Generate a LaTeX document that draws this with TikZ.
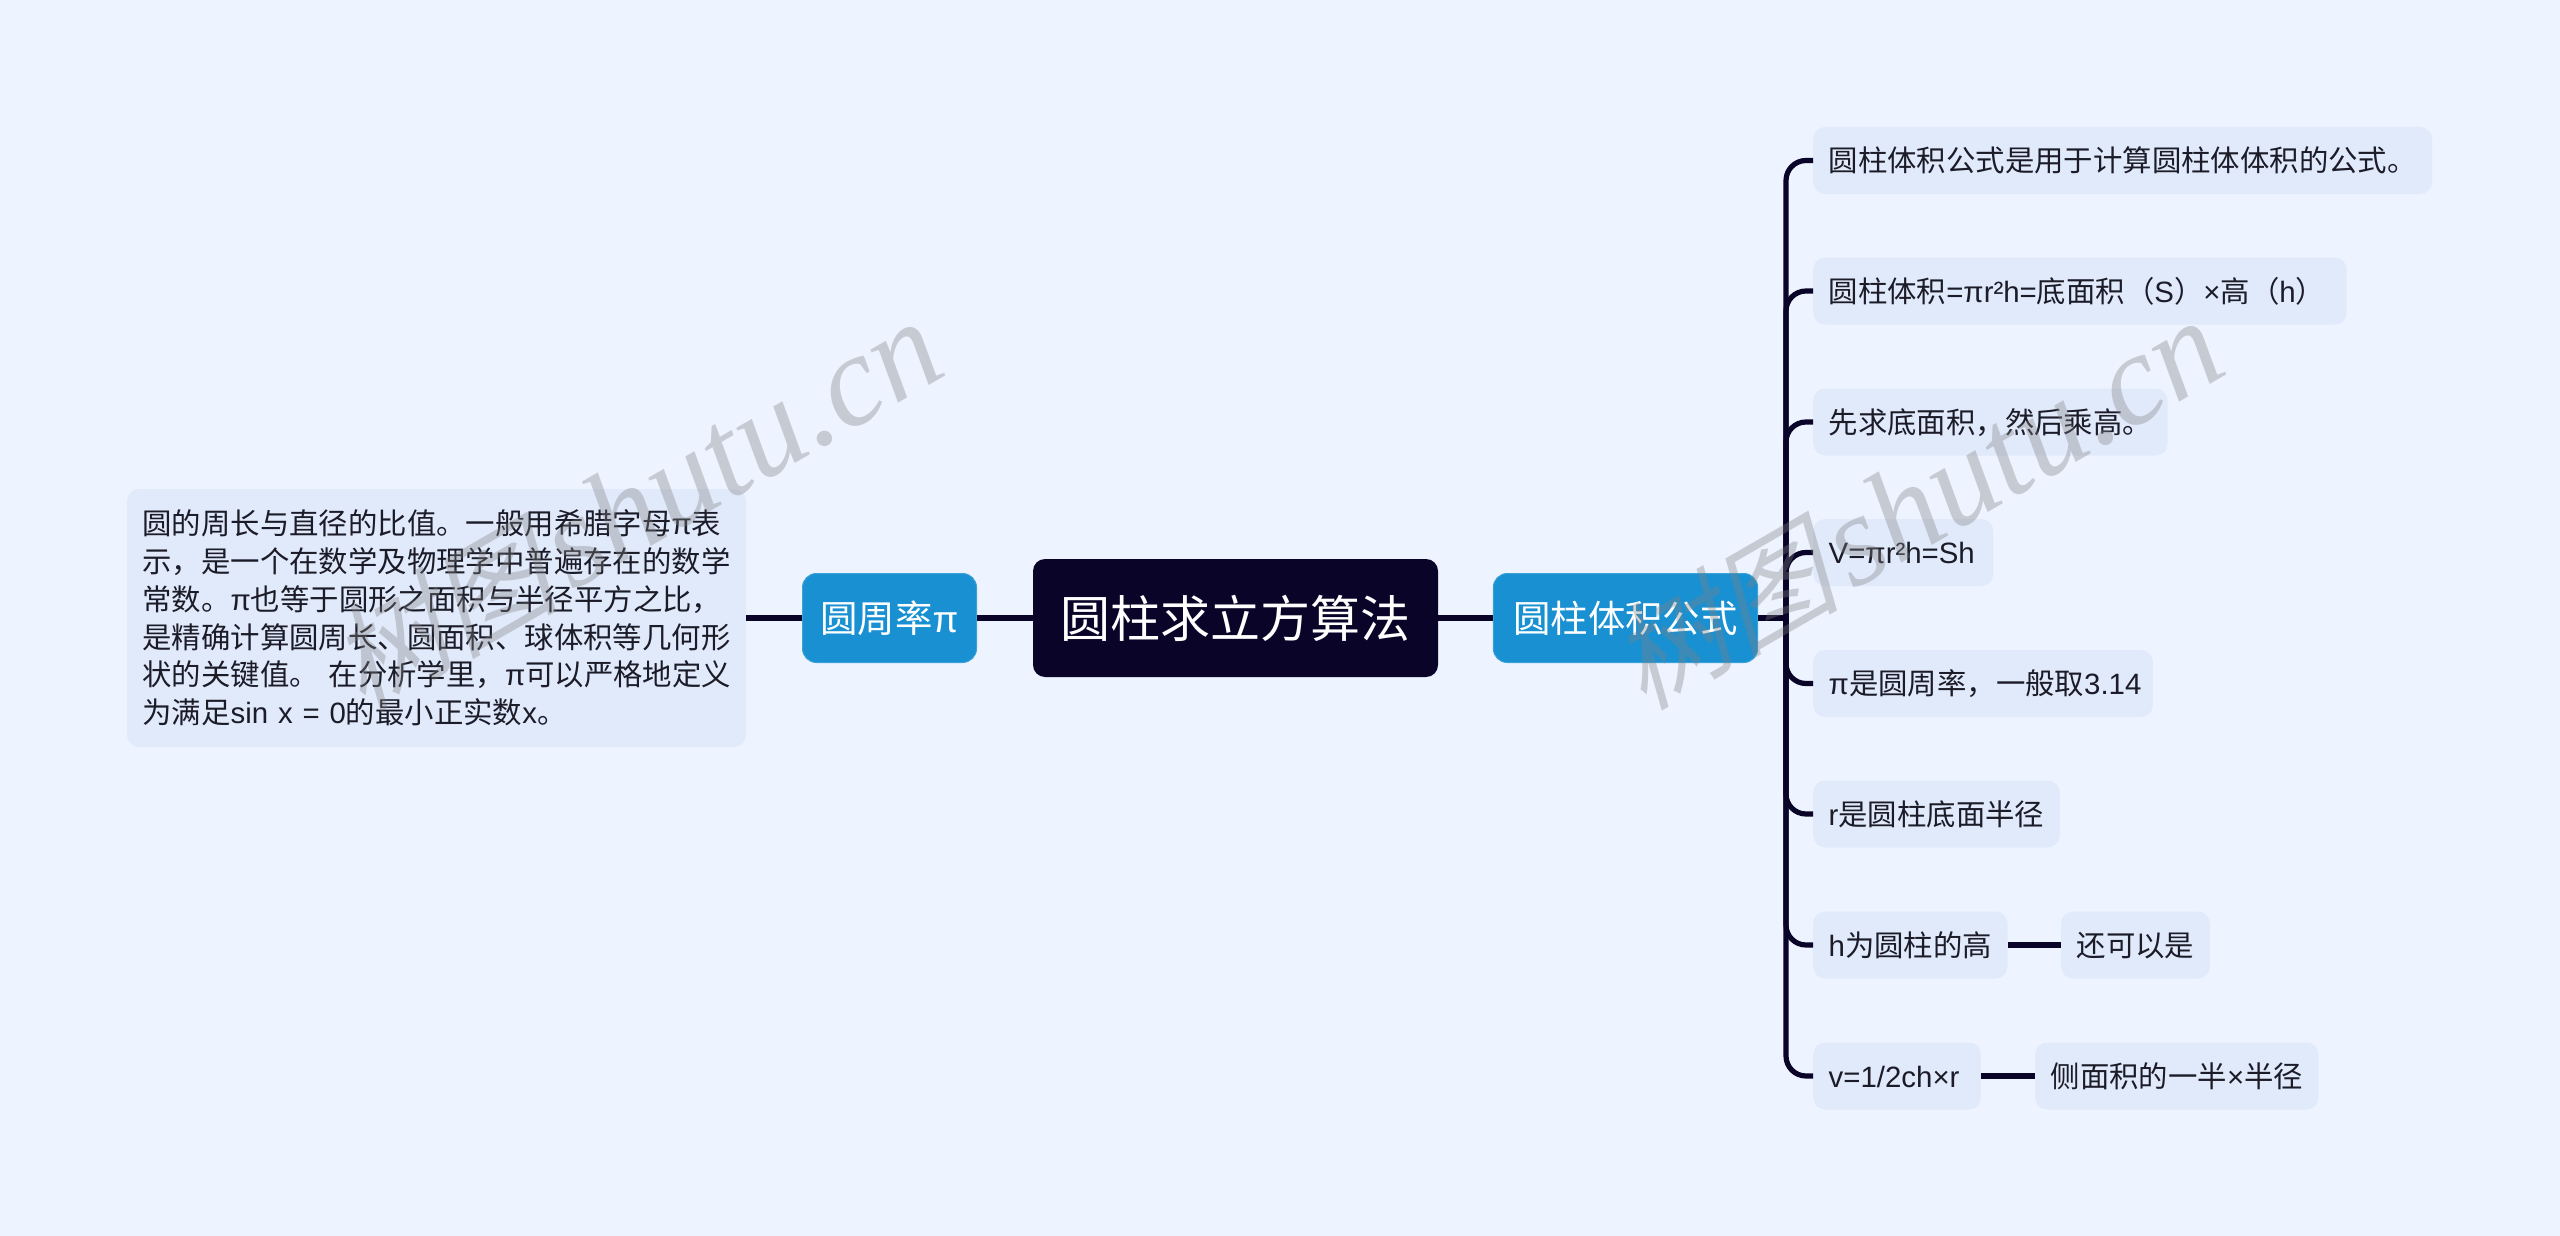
\documentclass[tikz,border=0pt]{standalone}
\usepackage{fontspec}
\setmainfont{Noto Sans CJK SC}
\newfontfamily\latfont{Liberation Sans}
\newfontfamily\wmfont{Liberation Serif}
\newfontfamily\wmcjk[FakeSlant=0.25]{Noto Sans CJK SC}
\usetikzlibrary{positioning}
\newcommand{\lat}[1]{{\latfont #1}}
\newcommand{\stamptext}{{\wmcjk\fontsize{115}{130}\selectfont 树图}\kern12pt{\wmfont\itshape shutu.cn}}
\definecolor{bgblue}{HTML}{EDF3FF}
\definecolor{leafblue}{HTML}{E1EAFB}
\definecolor{branchblue}{HTML}{1890D2}
\definecolor{rootnavy}{HTML}{0A0528}
\definecolor{inkdark}{HTML}{1C1C28}
\tikzstyle{root}=[rounded corners=12pt,fill=rootnavy,text=white,minimum width=405pt,minimum height=118pt,inner sep=0pt,text height=44pt,text depth=6pt,font=\fontsize{50}{60}\selectfont]
\tikzstyle{branch}=[rounded corners=14pt,fill=branchblue,draw=branchblue!85!white,line width=1pt,text=white,minimum height=89pt,inner xsep=20pt,inner ysep=0pt,text height=32.9pt,text depth=4.5pt,font=\fontsize{37.4}{45}\selectfont]
\tikzstyle{leaf}=[rounded corners=12pt,fill=leafblue,text=inkdark,minimum height=67pt,inner xsep=15.5pt,inner ysep=0pt,anchor=west,text height=25.9pt,text depth=3.5pt,font=\fontsize{29.4}{37.8}\selectfont]
\tikzstyle{para}=[rounded corners=12pt,fill=leafblue,text=inkdark,minimum height=258pt,inner xsep=15.5pt,inner ysep=0pt,text width=588pt,align=left,font=\fontsize{29.4}{37.8}\selectfont]
\tikzstyle{link}=[draw=rootnavy,line width=5.2pt]
\tikzstyle{stamp}=[text=gray,opacity=0.35,rotate=30,anchor=base east,inner sep=0pt,font=\fontsize{130}{130}\selectfont]

\begin{document}
\begin{tikzpicture}[x=1pt,y=-1pt]
    % page
    \fill[bgblue] (0,0) rectangle (2560,1236);
    \useasboundingbox (0,0) rectangle (2560,1236);

    % centre and the two branches
    \node[root] (R1) at (1235.5,618) {圆柱求立方算法};
    \node[branch,inner xsep=18pt] (L) at (889.5,618) {圆周率\lat{π}};
    \node[branch] (R) at (1625.5,618) {圆柱体积公式};
    \node[para] (Ltext) at (436.5,618) {圆的周长与直径的比值。一般用希腊字母\lat{π}表\\
        示，是一个在数学及物理学中普遍存在的数学\\
        常数。\lat{π}也等于圆形之面积与半径平方之比，\\
        是精确计算圆周长、圆面积、球体积等几何形\\
        状的关键值。 在分析学里，\lat{π}可以严格地定义\\
        为满足\lat{sin x = 0}的最小正实数\lat{x}。};
    \coordinate (hub) at (1786,618);

    % right leaves
    \foreach \pos/\name/\txt in {{(1813,160.5)/RA/{圆柱体积公式是用于计算圆柱体体积的公式。}},
        {(1813,291)/RB/{圆柱体积\lat{=πr²h=}底面积（\lat{S}）\lat{×}高（\lat{h}）\kern6pt}},
        {(1813,422)/RC/{先求底面积，然后乘高。}},
        {(1813,552.5)/RD/{\lat{V=πr²h=Sh}\kern3pt}},
        {(1813,683.5)/RE/{\lat{π}是圆周率，一般取\lat{3.14}\kern-4pt}},
        {(1813,814)/RF/{\lat{r}是圆柱底面半径}},
        {(1813,945)/RG/{\lat{h}为圆柱的高}},
        {(1813,1076)/RH/{\lat{v=1/2ch×r}\kern6pt}}}
        \node[leaf] (\name) at \pos {\txt};
    \node[leaf] (RGG) at (2061,945) {还可以是};
    \node[leaf] (RHH) at (2035,1076) {侧面积的一半\lat{×}半径};

    % connectors
    \draw[link] (Ltext) -- (L);
    \draw[link] (L) -- (R1);
    \draw[link] (R1) -- (R);
    \draw[link] (R) -- (hub);
    \foreach \dest in {RA,RB,RC,RD,RE,RF,RG,RH}
        \draw[link,rounded corners=20pt] (hub) |- (\dest.west);
    \draw[link] (RG) -- (RGG);
    \draw[link] (RH) -- (RHH);

    % watermarks
    \node[stamp] (markL) at (951,373) {\stamptext};
    \node[stamp] (markR) at (2232,372) {\stamptext};
\end{tikzpicture}
\end{document}
